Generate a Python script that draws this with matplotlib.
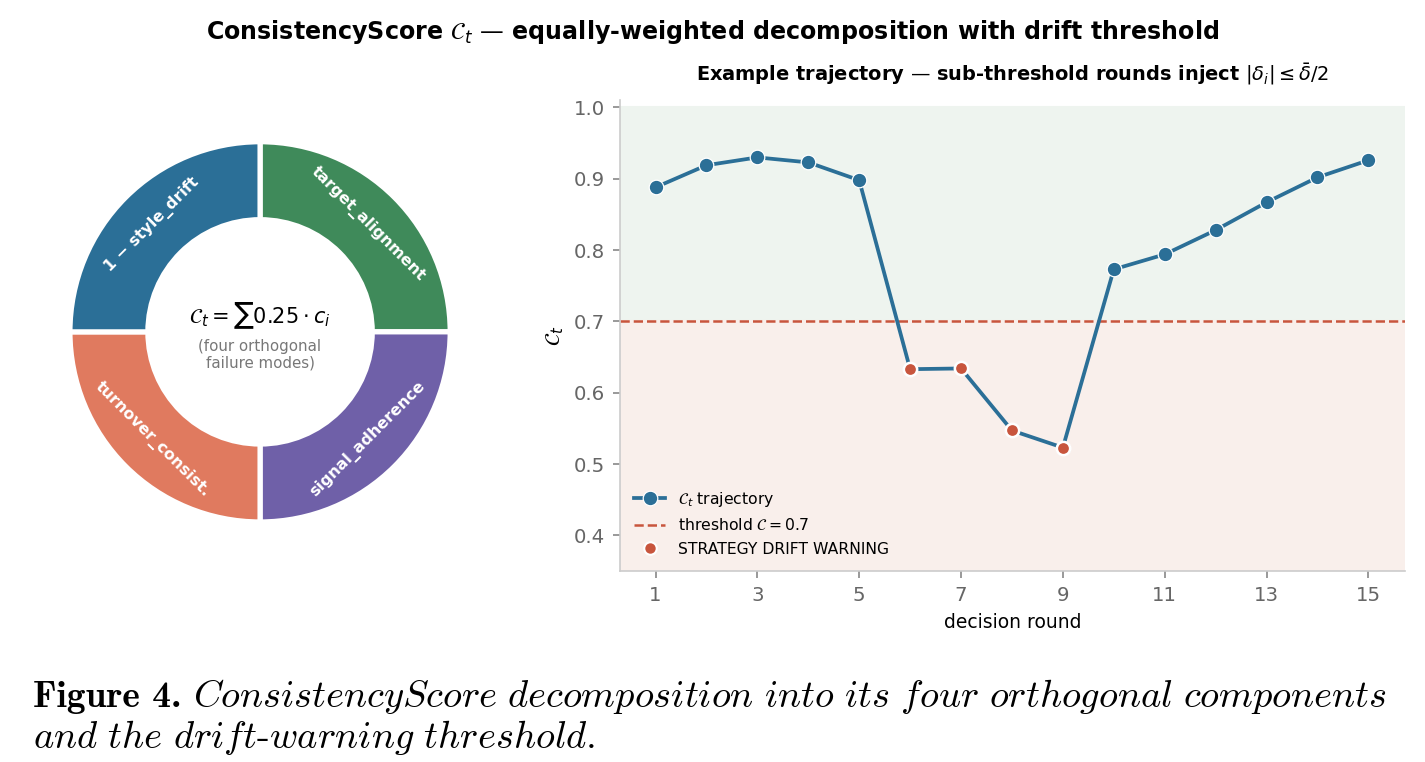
import numpy as np
import matplotlib
matplotlib.use("Agg")
import matplotlib.pyplot as plt
from matplotlib.lines import Line2D

# ---- data ----
components = ["target_alignment", "signal_adherence", "turnover_consist.", "1 − style_drift"]
weights = [0.25, 0.25, 0.25, 0.25]
comp_colors = ["#3f8a5a", "#6f60a8", "#e07a5f", "#2b6f97"]

rounds = np.arange(1, 16)
score = [0.888, 0.919, 0.930, 0.923, 0.898, 0.633, 0.634, 0.547,
         0.523, 0.773, 0.794, 0.828, 0.867, 0.902, 0.926]
threshold = 0.7

blue = "#2b6f97"
red = "#c8553d"

fig = plt.figure(figsize=(9.5, 5.08), dpi=150)

fig.text(0.5, 0.958, r"ConsistencyScore $\mathcal{C}_t$ — equally-weighted decomposition with drift threshold",
         ha="center", va="center", fontsize=11.4, fontweight="bold")

# ---- donut ----
axp = fig.add_axes([0.049, 0.315, 0.267, 0.499])
wedges, _ = axp.pie(weights, colors=comp_colors, startangle=90, counterclock=False,
                    radius=1.0, wedgeprops=dict(width=0.41, edgecolor="white", linewidth=2.5))
axp.set_xlim(-1.0, 1.0)
axp.set_ylim(-1.0, 1.0)
axp.set_aspect("equal")
r_lab = 0.8
for i, name in enumerate(components):
    ang = 45 - 90 * i
    a = np.deg2rad(ang)
    rot = ang - 90 if np.sin(a) > 0 else ang + 90
    axp.text(r_lab * np.cos(a), r_lab * np.sin(a), name, ha="center", va="center",
             rotation=rot, rotation_mode="anchor", color="white", fontsize=7.6, fontweight="bold")
axp.text(0, 0.085, r"$\mathcal{C}_t = \sum 0.25 \cdot c_i$", ha="center", va="center", fontsize=10)
axp.text(0, -0.12, "(four orthogonal\nfailure modes)", ha="center", va="center",
         fontsize=7.2, color="#777777", linespacing=1.15)

# ---- trajectory ----
ax = fig.add_axes([0.435, 0.2507, 0.551, 0.6176])
ax.set_xlim(0.3, 15.72)
ax.set_ylim(0.35, 1.01)
ax.axhspan(threshold, 1.0, color="#eef4ef", zorder=0)
ax.axhspan(0.35, threshold, color="#f9efeb", zorder=0)
ax.axhline(threshold, color=red, ls="--", lw=1.2, zorder=1)
ax.plot(rounds, score, color=blue, lw=1.8, marker="o", ms=7, mec="white", mew=0.6, zorder=2)
sc = np.array(score)
low = sc < threshold
ax.scatter(rounds[low], sc[low], s=38, color=red, edgecolor="white", linewidth=1.0, zorder=3)

ax.set_xticks(np.arange(1, 16, 2))
ax.set_yticks([0.4, 0.5, 0.6, 0.7, 0.8, 0.9, 1.0])
ax.tick_params(colors="#888888", labelcolor="#666666", labelsize=9.5, length=3.5)
for s in ["top", "right"]:
    ax.spines[s].set_visible(False)
for s in ["left", "bottom"]:
    ax.spines[s].set_color("#cccccc")
ax.set_xlabel("decision round", fontsize=9)
ax.set_ylabel(r"$\mathcal{C}_t$", fontsize=10)
ax.set_title(r"Example trajectory — sub-threshold rounds inject $|\delta_i| \leq \bar{\delta}/2$",
             fontsize=9.3, fontweight="bold", pad=9.5)

handles = [
    Line2D([], [], color=blue, lw=1.8, marker="o", ms=7, mec="white", mew=0.6),
    Line2D([], [], color=red, ls="--", lw=1.2),
    Line2D([], [], ls="none", marker="o", ms=6, color=red, mec="white", mew=1.0),
]
labels = [r"$\mathcal{C}_t$ trajectory", r"threshold $\mathcal{C} = 0.7$", "STRATEGY DRIFT WARNING"]
ax.legend(handles, labels, loc="lower left", frameon=False, fontsize=7.5,
          bbox_to_anchor=(0.0, 0.0), handlelength=2.0, handletextpad=0.8, labelspacing=0.55)

# ---- caption ----
fig.text(0.023, 0.0726, "Figure 4.", fontname="cmb10", fontsize=18, va="baseline")
fig.text(0.1355, 0.0726,
         r"$\mathit{ConsistencyScore\ decomposition\ into\ its\ four\ orthogonal\ components}$",
         fontsize=18.5, va="baseline", math_fontfamily="cm")
fig.text(0.023, 0.018, r"$\mathit{and\ the\ drift}\text{-}\mathit{warning\ threshold.}$",
         fontsize=18.5, va="baseline", math_fontfamily="cm")

fig.savefig("out.png", dpi=150)
